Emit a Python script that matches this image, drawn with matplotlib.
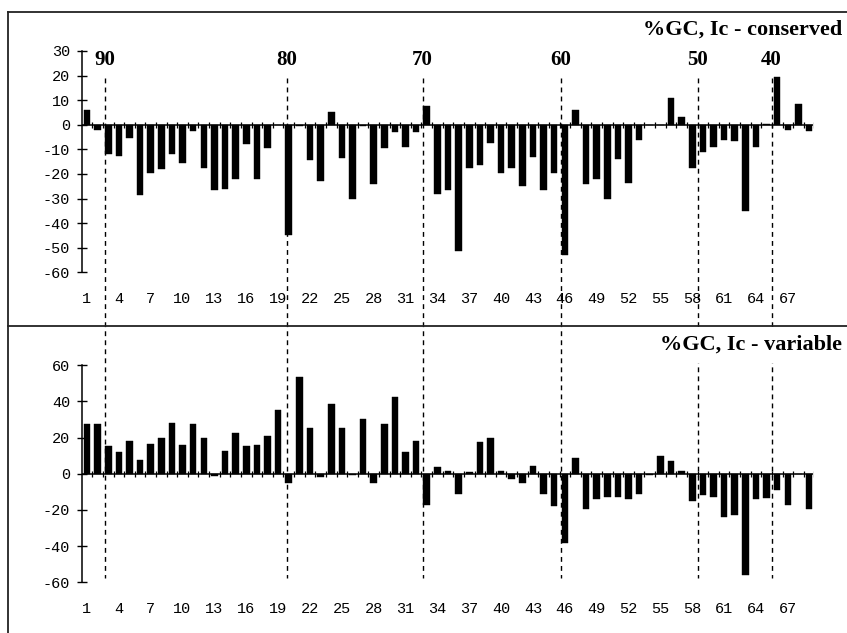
import numpy as np
import matplotlib
matplotlib.use("Agg")
import matplotlib.pyplot as plt
from matplotlib import transforms
from matplotlib.lines import Line2D

# ---------------- data ----------------
positions = np.arange(1, 70)
conserved = [6, -2, -12, -12.5, -5.5, -28.5, -19.5, -18, -12, -15.5,
             -2.5, -17.5, -26.5, -26, -22, -8, -22, -9.5, 0, -45,
             -0.5, -14.5, -23, 5, -13.5, -30, -0.5, -24, -9.5, -3,
             -9, -3, 7.5, -28, -26.5, -51.5, -17.5, -16.5, -7.5, -19.5,
             -17.5, -25, -13, -26.5, -19.5, -53, 6, -24, -22, -30,
             -14, -23.5, -6, 0, 0, 11, 3, -17.5, -11, -9,
             -6, -6.5, -35, -9, 0.3, 19.5, -2, 8.5, -2.5]
variable = [27.7, 27.3, 15.3, 12, 18, 7.7, 16.4, 19.7, 28, 15.7,
            27.3, 19.7, -1.3, 12.7, 22.3, 15.1, 16.2, 21, 35.2, -5.2,
            53.3, 25.6, -2, 38.7, 25.6, -0.7, 30.4, -5, 27.5, 42.4,
            12, 18.3, -17.3, 3.7, 1.3, -11, 1.1, 17.7, 19.6, 1.7,
            -3.1, -5, 4.4, -11.4, -17.7, -38, 8.9, -19.6, -13.8, -12.9,
            -13.1, -14.2, -11.3, -0.7, 9.8, 7, 1.8, -14.8, -11.8, -12.9,
            -23.8, -22.7, -55.9, -13.8, -13.5, -9.2, -17, 0, -19.6]
xtick_values = list(range(1, 68, 3))
marker_pos = [2.67, 19.83, 32.61, 45.60, 58.53, 65.47]
marker_labels = ["90", "80", "70", "60", "50", "40"]
top_yticks = [30, 20, 10, 0, -10, -20, -30, -40, -50, -60]
bot_yticks = [60, 40, 20, 0, -20, -40, -60]
title_top = "%GC, Ic - conserved"
title_bot = "%GC, Ic - variable"

W, H = 847, 633
fig = plt.figure(figsize=(W / 100, H / 100), dpi=100)
fig.patch.set_facecolor("white")

mono = "Liberation Mono"
serif = "Liberation Serif"

def px_rect(left, top, right, bottom):
    return [left / W, 1 - bottom / H, (right - left) / W, (bottom - top) / H]

ax1 = fig.add_axes(px_rect(82, 51, 813.3, 272.3))
ax2 = fig.add_axes(px_rect(82, 365.3, 813.3, 582.3))

def style(ax, vals, ylim, yticks):
    ax.bar(positions, vals, width=0.62, color="black", edgecolor="black", linewidth=0.3)
    ax.set_xlim(0.53, 69.4)
    ax.set_ylim(*ylim)
    for s in ["top", "right", "bottom"]:
        ax.spines[s].set_visible(False)
    ax.spines["left"].set_linewidth(1.1)
    ax.set_yticks(yticks)
    ax.set_yticklabels([str(v) for v in yticks], fontfamily=mono, fontsize=11)
    ax.tick_params(axis="y", direction="inout", length=7, width=1.0, pad=5)
    ax.set_xticks(xtick_values)
    ax.set_xticklabels([str(v) for v in xtick_values], fontfamily=mono, fontsize=11)
    ax.tick_params(axis="x", length=0, pad=14)
    ax.axhline(0, color="black", linewidth=1.1, xmin=0, xmax=1)
    bounds = positions + 0.5
    ax.plot(bounds, np.zeros_like(bounds, dtype=float), linestyle="none",
            marker="|", markersize=5, markeredgewidth=0.9, color="black")
    ax.set_facecolor("none")

style(ax1, conserved, (-60, 30), top_yticks)
style(ax2, variable, (-60, 60), bot_yticks)

# dashed vertical marker lines spanning both panels
trans = transforms.blended_transform_factory(ax1.transData, fig.transFigure)
for p in marker_pos:
    fig.add_artist(Line2D([p, p], [1 - 78 / H, 1 - 578 / H], transform=trans,
                          color="black", linewidth=1.0, linestyle=(0, (3.5, 3)),
                          zorder=2))
for p, lab in zip(marker_pos, marker_labels):
    fig.text(p, 1 - 60 / H, lab, transform=trans, ha="center", va="center",
             fontfamily=serif, fontweight="bold", fontsize=15)

box = dict(facecolor="white", edgecolor="none", pad=6)
fig.text(842 / W, 1 - 30 / H, title_top, ha="right", va="center",
         fontfamily=serif, fontweight="bold", fontsize=16, zorder=5)
fig.text(842 / W, 1 - 345 / H, title_bot, ha="right", va="center",
         fontfamily=serif, fontweight="bold", fontsize=16, zorder=5, bbox=box)

# frame lines
fl = dict(color="#222222", linewidth=1.3, transform=fig.transFigure, zorder=6)
fig.add_artist(Line2D([8 / W, 1.0], [1 - 12 / H, 1 - 12 / H], **fl))
fig.add_artist(Line2D([8 / W, 8 / W], [1 - 12 / H, 0.0], **fl))
fig.add_artist(Line2D([8 / W, 1.0], [1 - 326 / H, 1 - 326 / H], **fl))

fig.savefig("out.png", dpi=100)
